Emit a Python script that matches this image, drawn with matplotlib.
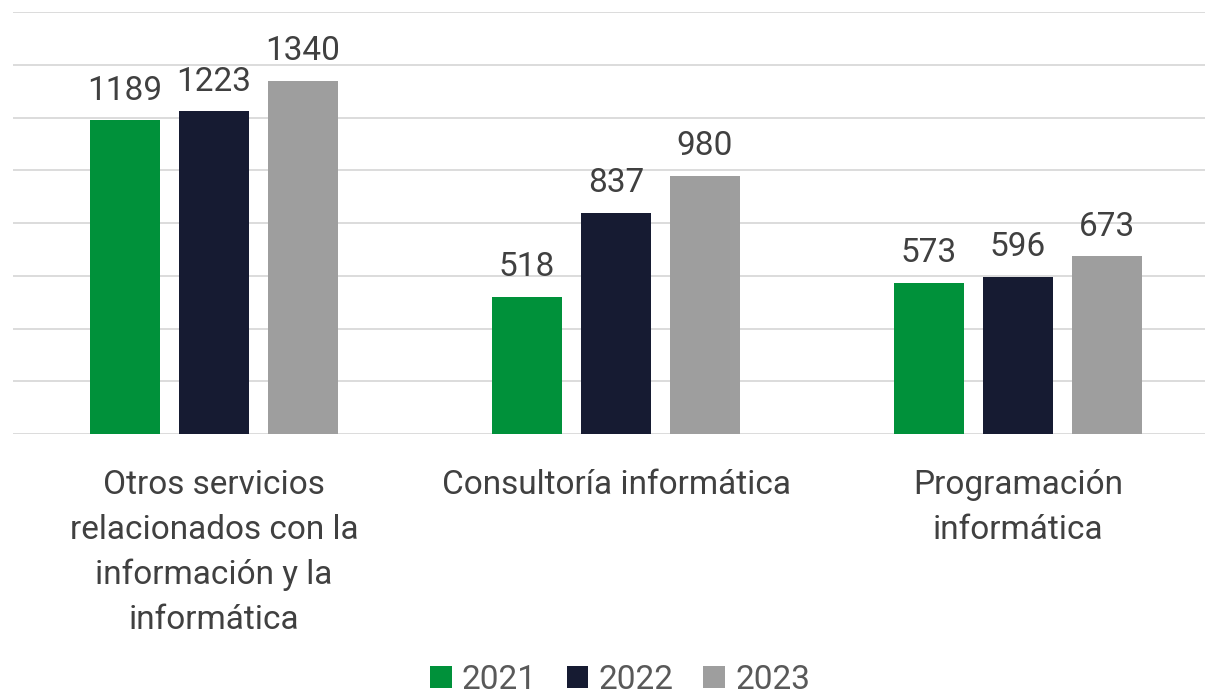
import numpy as np
import matplotlib
matplotlib.use('Agg')
import matplotlib.pyplot as plt

categories = ['Otros servicios\nrelacionados con la\ninformación y la\ninformática',
              'Consultoría informática',
              'Programación\ninformática']
years = ['2021', '2022', '2023']
v2021 = [1189, 518, 573]
v2022 = [1223, 837, 596]
v2023 = [1340, 980, 673]

colors = ['#00913A', '#161B32', '#9E9E9E']
plt.rcParams['font.family'] = ['Roboto', 'DejaVu Sans']

fig = plt.figure(figsize=(12.05, 6.97), dpi=100)
ax = fig.add_axes([13/1205, 1 - 434/697, 1 - 13/1205, (434 - 12)/697])

x = np.arange(len(categories))
width = 70/402
step = 89/402
for i, (vals, yr) in enumerate(zip([v2021, v2022, v2023], years)):
    bars = ax.bar(x + (i - 1)*step, vals, width=width, color=colors[i], label=yr, zorder=3)
    for b, v in zip(bars, vals):
        ax.annotate(str(v), (b.get_x() + b.get_width()/2, v), xytext=(0, 10),
                    textcoords='offset points', ha='center', va='bottom',
                    fontsize=24, color='#404040')

ax.set_ylim(0, 1600)
ax.set_xlim(-0.5, (1205 - 214)/402)
ax.set_yticks(np.arange(0, 1601, 200))
ax.yaxis.grid(True, color='#D9D9D9', linewidth=1.3, zorder=0)
ax.tick_params(axis='y', left=False, labelleft=False)
ax.tick_params(axis='x', bottom=False, pad=22)
ax.set_xticks(x)
ax.set_xticklabels(categories, fontsize=24, color='#404040', linespacing=1.5, va='top')
for s in ax.spines.values():
    s.set_visible(False)

fig.legend(loc='center', bbox_to_anchor=(620/1205, 1 - 680/697), ncol=3, frameon=False,
           fontsize=24, handlelength=0.65, handleheight=0.65, handletextpad=0.3,
           columnspacing=0.9, labelcolor='#595959', borderpad=0.1)

fig.savefig('out.png', dpi=100)
